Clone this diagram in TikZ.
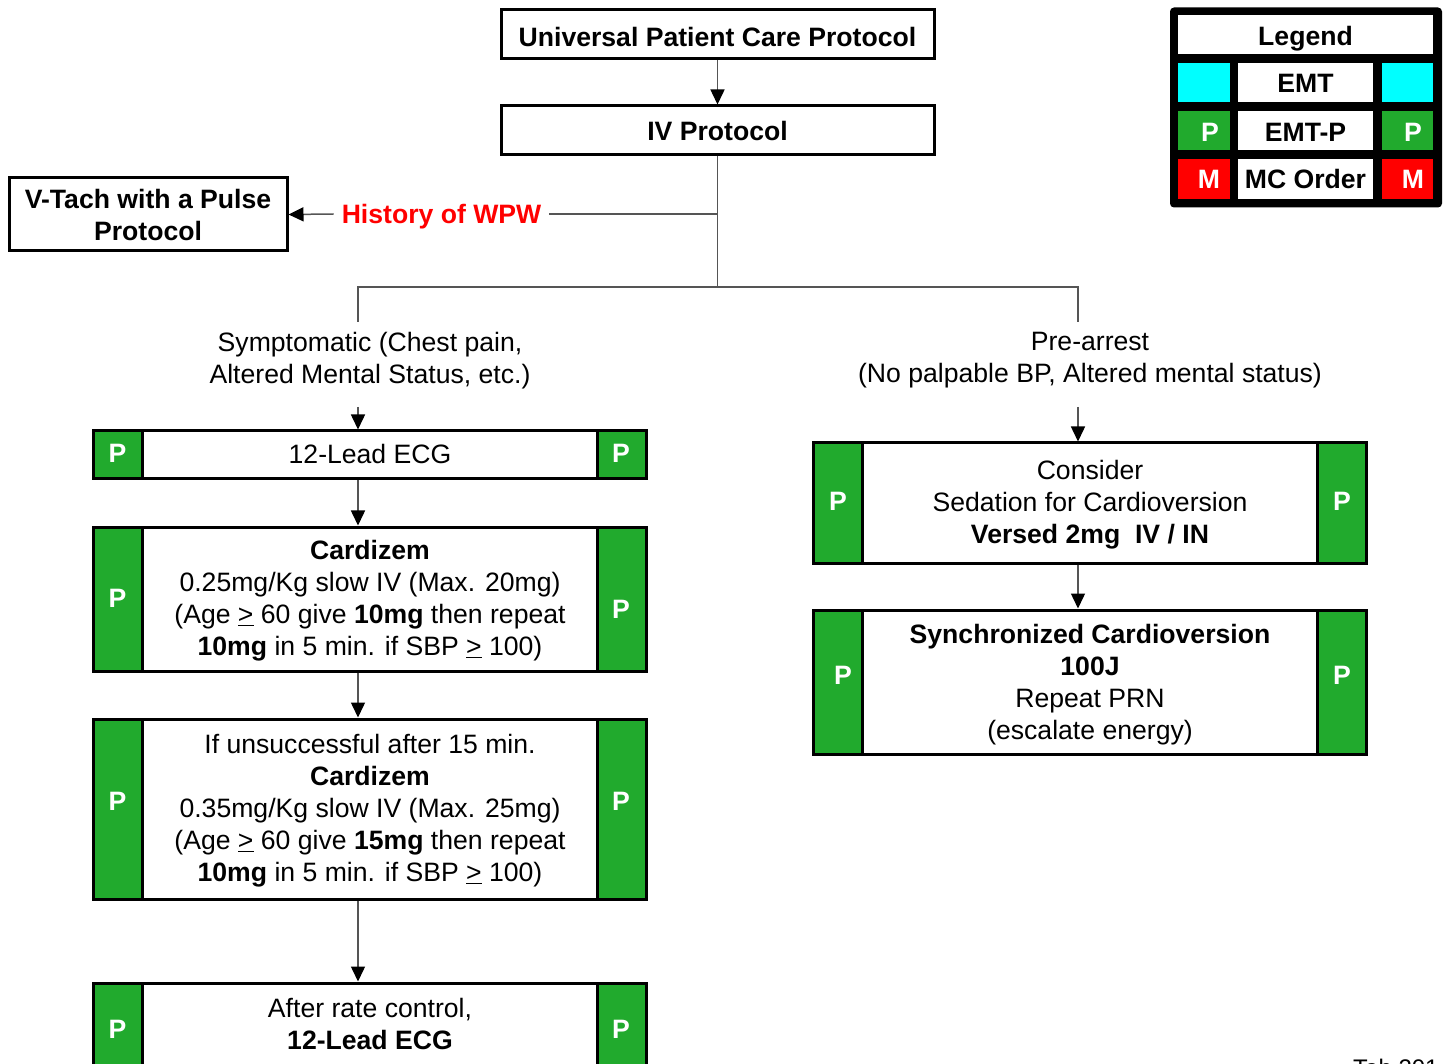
\documentclass[tikz,border=0pt]{standalone}
\usepackage{fontspec}
\setmainfont{Liberation Sans}
\usetikzlibrary{arrows.meta}
\definecolor{pgreen}{RGB}{33,170,45}
\definecolor{lcyan}{RGB}{0,255,255}
\definecolor{lred}{RGB}{255,0,0}
\definecolor{cgray}{RGB}{85,85,85}
\begin{document}
\begin{tikzpicture}[x=1pt,y=-1pt,
  font=\fontsize{26.6}{32}\selectfont,
  box/.style={draw=black, line width=3pt, fill=white, inner sep=0pt},
  side/.style={draw=black, line width=3pt, fill=pgreen, inner sep=0pt},
  ptxt/.style={text=white, inner sep=0pt, font=\fontsize{26.6}{32}\selectfont\bfseries},
  txt/.style={align=center, inner sep=0pt},
  btxt/.style={align=center, inner sep=0pt, font=\fontsize{26.6}{32}\selectfont\bfseries},
  cell/.style={fill=#1, inner sep=0pt},
  conn/.style={draw=cgray, line width=1.5pt},
  arr/.style={conn, -{Triangle[length=15pt,width=14pt,color=black]}}
]
\clip (0,0) rectangle (1444,1064);
\fill[white] (0,0) rectangle (1444,1064);

% top boxes
\node[box, minimum width=433, minimum height=49] (upcp) at (717.5,34.5) {};
\node[btxt] at (717.5,36.5) {Universal Patient Care Protocol};
\node[box, minimum width=433, minimum height=49] (iv) at (717.5,130.5) {};
\node[btxt] at (iv) {IV Protocol};
\node[box, minimum width=278, minimum height=73] (vtach) at (148,214.5) {};
\node[btxt] at (vtach) {V-Tach with a Pulse\\Protocol};
\node[btxt, text=lred, inner xsep=8pt] (wpw) at (441.5,217) {History of WPW};

\coordinate (wpwj) at (717.5,214);
\coordinate (split) at (717.5,287);
\coordinate (symt) at (358,322);
\coordinate (pret) at (1078,322);
\coordinate (symb) at (358,407);
\coordinate (preb) at (1078,407);
\coordinate (lx) at (358,0);
\coordinate (rx) at (1078,0);

\draw[arr] (upcp) -- (iv);
\draw[conn] (iv.south) -- (split);
\draw[conn] (wpwj) -- (wpw.east |- wpwj);
\draw[arr] (wpw.west |- wpwj) -- (vtach.east);
\draw[conn] (symt) |- (split) -| (pret);

\node[txt] (sym) at (370,360.5) {Symptomatic (Chest pain,\\Altered Mental Status, etc.)};
\node[txt] (pre) at (1090,360.5) {Pre-arrest\\(No palpable BP, Altered mental status)};

% left column
\node[box, minimum width=553, minimum height=48] (ecg) at (369.5,455) {};
\node[side, minimum width=49, minimum height=48] (ecgl) at (117.5,455) {};
\node[side, minimum width=49, minimum height=48] (ecgr) at (622,455) {};
\node[ptxt] at (117.5,453.5) {P};
\node[ptxt] at (621,453.5) {P};
\node[txt] at (370,454) {12-Lead ECG};

\node[box, minimum width=553, minimum height=144] (card1) at (369.5,599) {};
\node[side, minimum width=49, minimum height=144] at (117.5,599) {};
\node[side, minimum width=49, minimum height=144] at (622,599) {};
\node[ptxt] at (117.5,598) {P};
\node[ptxt] at (621,609) {P};
\node[txt] at (370,600.5) {\textbf{Cardizem}\\0.25mg/Kg slow IV (Max. 20mg)\\(Age \underline{>} 60 give \textbf{10mg} then repeat\\\textbf{10mg} in 5 min. if SBP \underline{>} 100)};

\node[box, minimum width=553, minimum height=180] (card2) at (369.5,809) {};
\node[side, minimum width=49, minimum height=180] at (117.5,809) {};
\node[side, minimum width=49, minimum height=180] at (622,809) {};
\node[ptxt] at (117.5,801) {P};
\node[ptxt] at (621,801) {P};
\node[txt] at (370,810.5) {If unsuccessful after 15 min.\\\textbf{Cardizem}\\0.35mg/Kg slow IV (Max. 25mg)\\(Age \underline{>} 60 give \textbf{15mg} then repeat\\\textbf{10mg} in 5 min. if SBP \underline{>} 100)};

\node[box, minimum width=553, minimum height=92] (ecg2) at (369.5,1029) {};
\node[side, minimum width=49, minimum height=92] at (117.5,1029) {};
\node[side, minimum width=49, minimum height=92] at (622,1029) {};
\node[ptxt] at (117.5,1029) {P};
\node[ptxt] at (621,1029) {P};
\node[txt] at (370,1024) {After rate control,\\\textbf{12-Lead ECG}};

\draw[arr] (symb) -- (symb |- ecg.north);
\draw[arr] (lx |- ecg.south) -- (lx |- card1.north);
\draw[arr] (lx |- card1.south) -- (lx |- card2.north);
\draw[arr] (lx |- card2.south) -- (lx |- ecg2.north);

% right column
\node[box, minimum width=553, minimum height=120] (sed) at (1089.5,503) {};
\node[side, minimum width=49, minimum height=120] at (837.5,503) {};
\node[side, minimum width=49, minimum height=120] at (1342,503) {};
\node[ptxt] at (838,501) {P};
\node[ptxt] at (1342,501) {P};
\node[txt] at (1090,504.5) {Consider\\Sedation for Cardioversion\\\textbf{Versed 2mg\ \ IV / IN}};

\node[box, minimum width=553, minimum height=144] (sync) at (1089.5,682) {};
\node[side, minimum width=49, minimum height=144] at (837.5,682) {};
\node[side, minimum width=49, minimum height=144] at (1342,682) {};
\node[ptxt] at (843,675) {P};
\node[ptxt] at (1342,675) {P};
\node[txt] at (1090,684.5) {\textbf{Synchronized Cardioversion}\\\textbf{100J}\\Repeat PRN\\(escalate energy)};

\draw[arr] (preb) -- (preb |- sed.north);
\draw[arr] (rx |- sed.south) -- (rx |- sync.north);

% legend
\node[fill=black, rounded corners=4pt, minimum width=272, minimum height=200, inner sep=0pt] (leg) at (1306,107.5) {};
\node[cell=white, minimum width=255, minimum height=39] (lt) at (1305.5,34.5) {};
\node[btxt] at (1305.5,38.5) {Legend};
\node[cell=lcyan, minimum width=52, minimum height=39] (c1) at (1204,82.5) {};
\node[cell=white, minimum width=135, minimum height=39] (emt) at (1305.5,82.5) {};
\node[btxt] at (1305.5,83.5) {EMT};
\node[cell=lcyan, minimum width=51, minimum height=39] (c2) at (1407.5,82.5) {};
\node[cell=pgreen, minimum width=52, minimum height=39] (g1) at (1204,130.5) {};
\node[cell=white, minimum width=135, minimum height=39] (emtp) at (1305.5,130.5) {};
\node[btxt] at (1305.5,132.5) {EMT-P};
\node[cell=pgreen, minimum width=51, minimum height=39] (g2) at (1407.5,130.5) {};
\node[cell=lred, minimum width=52, minimum height=40] (r1) at (1204,179) {};
\node[cell=white, minimum width=135, minimum height=40] (mco) at (1305.5,179) {};
\node[btxt] at (mco) {MC Order};
\node[cell=lred, minimum width=51, minimum height=40] (r2) at (1407.5,179) {};
\node[ptxt] at (1210,132.5) {P};
\node[ptxt] at (1413,132.5) {P};
\node[ptxt] at (1209,179) {M};
\node[ptxt] at (1413,179) {M};

\node[anchor=north west, inner sep=0pt, font=\fontsize{24}{28}\selectfont] (tab) at (1353,1059) {Tab 201};
\end{tikzpicture}
\end{document}
